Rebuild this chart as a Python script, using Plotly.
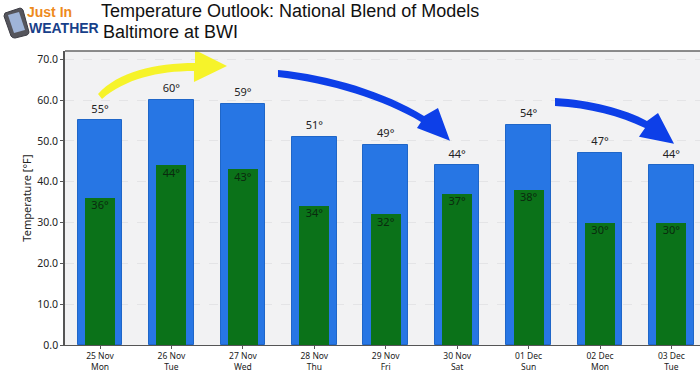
import plotly.graph_objects as go

days = ["25 Nov<br>Mon", "26 Nov<br>Tue", "27 Nov<br>Wed", "28 Nov<br>Thu", "29 Nov<br>Fri",
        "30 Nov<br>Sat", "01 Dec<br>Sun", "02 Dec<br>Mon", "03 Dec<br>Tue"]
highs = [55, 60, 59, 51, 49, 44, 54, 47, 44]
lows = [36, 44, 43, 34, 32, 37, 38, 30, 30]
y_ticks = [0, 10, 20, 30, 40, 50, 60, 70]
title_line1 = "Temperature Outlook: National Blend of Models"
title_line2 = "Baltimore at BWI"

W, H = 700, 380
L, R, T, B = 65, 700, 51, 345.5
FONT = "Noto Sans"
xs = list(range(len(days)))


def px(x):
    return (x - L) / (R - L)


def py(y):
    return (B - y) / (B - T)


def P(x, y):
    return f"{px(x):.4f} {py(y):.4f}"


def path_shape(d, color, lw=0, lc=None):
    return dict(type="path", xref="paper", yref="paper", path=d, fillcolor=color,
                line=dict(color=lc or color, width=lw), layer="above")


fig = go.Figure()
fig.add_bar(x=xs, y=highs, width=0.625,
            marker=dict(color="#2776e4", line=dict(color="#1f66c8", width=1)), showlegend=False)
fig.add_bar(x=xs, y=lows, width=0.42, marker=dict(color="#0b7219", line=dict(width=0)), showlegend=False)
fig.add_scatter(x=xs, y=highs, mode="markers+text", text=[f"{v}°" for v in highs], textposition="top center",
                marker=dict(size=6.4, opacity=0),
                textfont=dict(family=FONT, size=11, color="#222222"), showlegend=False, cliponaxis=False)
fig.add_scatter(x=xs, y=lows, mode="markers+text", text=[f"{v}°" for v in lows], textposition="bottom center",
                marker=dict(size=3.2, opacity=0),
                textfont=dict(family=FONT, size=11, color="#0a2a0e"), showlegend=False, cliponaxis=False)

yellow = (f"M {P(98,94)} C {P(118,72)} {P(155,63)} {P(195,63)} L {P(195,50)} L {P(227,66)} L {P(194,82)} "
          f"L {P(194,71)} C {P(158,71)} {P(125,79)} {P(102,99)} Z")
blue1 = (f"M {P(278,70)} C {P(330,75)} {P(385,92)} {P(424,116)} L {P(438,108)} L {P(450,141)} L {P(417,128)} "
         f"L {P(421,122)} C {P(385,100)} {P(330,83)} {P(278,77)} Z")
blue2 = (f"M {P(555,98)} C {P(590,100)} {P(625,109)} {P(647,121)} L {P(658,113)} L {P(674,144)} L {P(639,137)} "
         f"L {P(645,128)} C {P(620,116)} {P(590,108)} {P(555,106)} Z")
phone = f"M {P(5,13)} L {P(20,8)} Q {P(22,8)} {P(23,10)} L {P(29,32)} Q {P(29,34)} {P(27,35)} L {P(15,38)} Q {P(12,38)} {P(11,36)} L {P(4,16)} Z"
screen = f"M {P(8,15)} L {P(19,12)} L {P(25,30)} L {P(14,33)} Z"

shapes = [
    path_shape(yellow, "#f6f32a"),
    path_shape(blue1, "#0d3fe8"),
    path_shape(blue2, "#0d3fe8"),
    path_shape(phone, "#55555c", 1, "#3c3c44"),
    path_shape(screen, "#9fb4d8"),
    dict(type="line", xref="paper", yref="paper", x0=0, x1=1, y0=1, y1=1,
         line=dict(color="#666666", width=1.5)),
]

fig.update_layout(
    width=W, height=H, barmode="overlay", bargap=0,
    paper_bgcolor="white", plot_bgcolor="#f2f2f3",
    margin=dict(l=L, r=W - R, t=T, b=H - B, autoexpand=False),
    font=dict(family=FONT, color="#222222"),
    title=dict(text=title_line1, x=101 / W, xanchor="left", y=1 - 11 / H, yanchor="middle",
               font=dict(family="Liberation Sans", size=18, color="#111111")),
    xaxis=dict(range=[-0.49, 8.4], tickmode="array", tickvals=xs, ticktext=days,
               tickfont=dict(size=8.5, color="#222222"), ticks="outside", ticklen=3, tickcolor="#555555",
               showgrid=False, showline=True, linecolor="#555555", linewidth=1, zeroline=False),
    yaxis=dict(range=[0, 72], tickmode="array", tickvals=y_ticks, ticktext=[f"{v:.1f}" for v in y_ticks],
               tickfont=dict(size=10.5, color="#222222"), ticks="outside", ticklen=3, tickcolor="#555555",
               showgrid=True, gridcolor="#e4e4e6", griddash="dash", gridwidth=1,
               showline=True, linecolor="#555555", linewidth=1.5, zeroline=False,
               title=dict(text="Temperature [°F]", font=dict(size=11, color="#222222"), standoff=3)),
    shapes=shapes,
    annotations=[
        dict(text=title_line2, xref="paper", yref="paper", x=px(101), y=py(32), xanchor="left", yanchor="middle",
             showarrow=False, font=dict(family="Liberation Sans", size=18, color="#111111")),
        dict(text="<b>Just In</b>", xref="paper", yref="paper", x=px(25), y=py(12), xanchor="left", yanchor="middle",
             showarrow=False, font=dict(family="Liberation Sans", size=14, color="#ee8a1d")),
        dict(text="<b>WEATHER</b>", xref="paper", yref="paper", x=px(27), y=py(28), xanchor="left", yanchor="middle",
             showarrow=False, font=dict(family="Liberation Sans", size=14, color="#173f8a")),
    ],
)
fig.write_html("out.html", config={"displayModeBar": False},
               post_script="document.body.style.margin='0';")
